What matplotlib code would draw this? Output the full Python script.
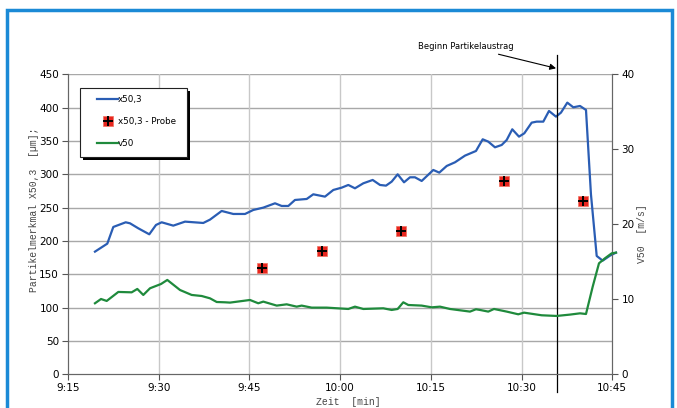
import numpy as np
import matplotlib.pyplot as plt
from matplotlib.patches import Rectangle
from matplotlib.legend_handler import HandlerTuple

# time in minutes after 9:15
x50_t = [4.46, 6.50, 7.49, 9.54, 10.25, 11.62, 13.44, 14.55, 15.49, 17.41, 19.35, 22.37, 23.48,
         25.41, 27.33, 29.27, 30.64, 32.29, 34.23, 35.33, 36.43, 37.53, 39.47, 40.56, 42.49,
         43.87, 45.26, 46.35, 47.45, 48.83, 50.38, 51.59, 52.58, 53.52, 54.51, 55.56, 56.55,
         57.37, 58.48, 60.40, 61.39, 62.62, 63.99, 65.64, 67.46, 68.57, 69.49, 70.60, 71.71,
         72.54, 73.46, 74.57, 75.45, 76.67, 77.50, 78.59, 79.53, 80.69, 81.51, 82.56, 83.55,
         84.66, 85.65, 86.47, 87.42, 88.41, 89.62, 90.61]
x50_val = [184, 196, 221, 228, 226.5, 219, 210, 224, 228, 223, 229, 227, 232,
           245, 240.5, 240.5, 246.5, 250, 256.5, 252.5, 252.5, 261.5, 263, 270, 266.5,
           276.5, 280, 284, 279, 286.5, 291.5, 284, 283, 289, 300, 288, 295.5,
           295.5, 290, 306.5, 302.5, 312.5, 318, 328, 335, 352.5, 349, 340.5, 344,
           351.5, 367.5, 356.5, 361.5, 377.5, 379, 379, 395, 386.5, 392.5, 407.5, 400.5,
           402.5, 396.5, 270, 177.5, 170.5, 178, 182.5]

probe_t = [32.0, 42.0, 55.0, 72.1, 85.2]
probe_val = [160, 185, 215, 290, 260]

v50_t = [4.46, 5.46, 6.40, 8.32, 10.53, 11.46, 12.45, 13.56, 15.38, 16.42, 18.52, 20.45,
         22.11, 23.48, 24.59, 25.96, 26.79, 30.09, 31.46, 32.29, 34.51, 36.16, 37.81, 38.64,
         40.29, 42.77, 46.35, 47.45, 48.83, 52.13, 53.52, 54.51, 55.44, 56.27, 58.48, 60.14,
         61.51, 63.16, 66.47, 67.46, 68.12, 69.49, 70.44, 72.54, 74.45, 75.40, 78.32, 80.80,
         83.00, 84.66, 85.65, 86.76, 87.80, 88.79, 89.90, 90.61]
v50_val = [9.47, 10.04, 9.78, 10.98, 10.93, 11.38, 10.58, 11.47, 12.04, 12.58, 11.24, 10.58,
           10.44, 10.13, 9.64, 9.60, 9.56, 9.91, 9.47, 9.69, 9.16, 9.33, 9.02, 9.16,
           8.89, 8.89, 8.71, 9.02, 8.71, 8.80, 8.58, 8.71, 9.60, 9.24, 9.16, 8.93,
           9.02, 8.71, 8.36, 8.67, 8.58, 8.36, 8.71, 8.36, 8.00, 8.22, 7.87, 7.78,
           7.96, 8.13, 8.04, 11.69, 14.80, 15.47, 16.13, 16.22]

beginn_t = 80.9
x_ticks = [0, 15, 30, 45, 60, 75, 90]
x_labels = ['9:15', '9:30', '9:45', '10:00', '10:15', '10:30', '10:45']

blue = '#2a5db4'
green = '#1f8a3c'
W, H = 677, 408

fig = plt.figure(figsize=(6.77, 4.08), dpi=100)
# blue frame around the chart
fig.patches.append(Rectangle((7 / W, -0.1), 665 / W, 1.1 - 10 / H, transform=fig.transFigure,
                             fill=False, edgecolor='#1b8ad6', linewidth=2.5))

ax = fig.add_axes([68 / W, 1 - 374.3 / H, 544.3 / W, 300 / H])
ax2 = ax.twinx()

ax.set_xlim(0, 90)
ax.set_ylim(0, 450)
ax2.set_ylim(0, 40)
ax.set_xticks(x_ticks)
ax.set_xticklabels(x_labels)
ax.set_yticks(range(0, 451, 50))
ax2.set_yticks(range(0, 41, 10))

for y in range(50, 451, 50):
    ax.axhline(y, color='#a8a8a8', lw=1.0, zorder=0)
for x in x_ticks[1:-1]:
    ax.axvline(x, color='#c8c8c8', lw=1.0, zorder=0)

for a in (ax, ax2):
    a.tick_params(labelsize=7.5, length=4, width=0.8, color='#555555', pad=2.5)
    for s in a.spines.values():
        s.set_color('#666666')
        s.set_linewidth(0.8)
    a.spines['top'].set_visible(False)

l1, = ax.plot(x50_t, x50_val, color=blue, lw=1.6, clip_on=False, zorder=3)
sq, = ax.plot(probe_t, probe_val, 's', color='#e8261f', ms=7, mec='#f07060', mew=0.5,
              linestyle='none', zorder=4)
pl, = ax.plot(probe_t, probe_val, '+', color='black', ms=6.5, mew=1.4, linestyle='none', zorder=5)
l3, = ax2.plot(v50_t, v50_val, color=green, lw=1.6, clip_on=False, zorder=3)

ax.axvline(beginn_t, ymin=-0.06, ymax=1.065, color='black', lw=0.9, clip_on=False, zorder=6)
ax.annotate('Beginn Partikelaustrag', xy=(beginn_t - 0.2, 459), xytext=(57.9, 492),
            fontsize=6, ha='left', va='center', annotation_clip=False,
            arrowprops=dict(arrowstyle='-|>', color='black', lw=0.8, mutation_scale=9,
                            shrinkA=2, shrinkB=0))

mono = ['Liberation Mono', 'DejaVu Sans Mono']
ax.set_ylabel('Partikelmerkmal X50,3  [µm];', family=mono, fontsize=7, color='#444444')
ax.yaxis.set_label_coords(-0.054, 0.55)
ax2.set_ylabel('V50  [m/s]', family=mono, fontsize=7, color='#444444')
ax2.yaxis.set_label_coords(1.045, 0.47)
ax.set_xlabel('Zeit  [min]', family=mono, fontsize=7, color='#444444')
ax.xaxis.set_label_coords(0.515, -0.075)

# legend box drawn by hand: shadow, then white frame
bx, by, bw, bh = 80, 88, 107, 69
fig.patches.append(Rectangle(((bx + 3) / W, 1 - (by + bh + 3) / H), bw / W, bh / H,
                             transform=fig.transFigure, facecolor='black', edgecolor='none', zorder=8))
fig.patches.append(Rectangle((bx / W, 1 - (by + bh) / H), bw / W, bh / H,
                             transform=fig.transFigure, facecolor='white', edgecolor='#222222',
                             linewidth=0.8, zorder=9))
leg = fig.legend([l1, (sq, pl), l3], ['x50,3', 'x50,3 - Probe', 'v50'],
                 handler_map={tuple: HandlerTuple(ndivide=1, pad=0)},
                 loc='upper left', bbox_to_anchor=(97 / W, 1 - 95 / H), fontsize=6.3,
                 frameon=False, handlelength=2.4, handletextpad=0.0,
                 labelspacing=1.5, borderpad=0, borderaxespad=0)
leg.set_zorder(10)

fig.savefig('out.png', dpi=100)
